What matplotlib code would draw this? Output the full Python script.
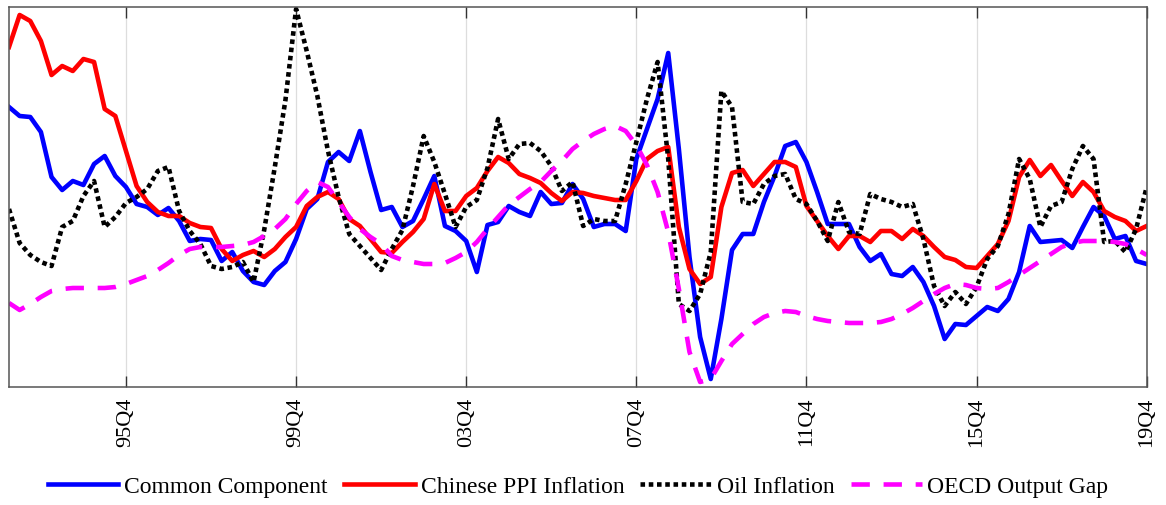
import matplotlib
matplotlib.use("Agg")
import matplotlib.pyplot as plt
import numpy as np

plt.rcParams['font.family'] = ['Liberation Serif', 'DejaVu Serif']

# quarterly sample 1993Q1 .. 2019Q4
start_year = 1993
n_quarters = 108
tick_labels = ['95Q4', '99Q4', '03Q4', '07Q4', '11Q4', '15Q4', '19Q4']
tick_pos = [11, 27, 43, 59, 75, 91, 107]

common = [0.92, 0.83, 0.82, 0.67, 0.22, 0.09, 0.18, 0.14, 0.35, 0.43,
          0.23, 0.12, -0.05, -0.08, -0.16, -0.09, -0.22, -0.42, -0.40, -0.41,
          -0.62, -0.53, -0.72, -0.83, -0.86, -0.72, -0.63, -0.40, -0.10, 0.00,
          0.37, 0.47, 0.38, 0.68, 0.27, -0.11, -0.08, -0.28, -0.22, 0.00,
          0.23, -0.27, -0.32, -0.42, -0.73, -0.26, -0.23, -0.07, -0.13, -0.17,
          0.07, -0.05, -0.04, 0.15, 0.00, -0.28, -0.25, -0.25, -0.32, 0.40,
          0.70, 1.00, 1.46, 0.50, -0.58, -1.38, -1.80, -1.20, -0.51, -0.35,
          -0.35, -0.03, 0.23, 0.53, 0.57, 0.37, 0.07, -0.25, -0.25, -0.25,
          -0.48, -0.62, -0.55, -0.75, -0.77, -0.68, -0.83, -1.07, -1.40, -1.25,
          -1.26, -1.17, -1.08, -1.12, -1.00, -0.73, -0.27, -0.43, -0.42, -0.41,
          -0.49, -0.28, -0.08, -0.17, -0.40, -0.37, -0.62, -0.65]

ppi = [1.52, 1.84, 1.78, 1.58, 1.24, 1.33, 1.28, 1.40, 1.37, 0.90,
       0.83, 0.48, 0.13, -0.03, -0.13, -0.17, -0.17, -0.24, -0.28, -0.29,
       -0.50, -0.62, -0.56, -0.52, -0.58, -0.50, -0.38, -0.28, -0.07, 0.02,
       0.07, 0.00, -0.20, -0.27, -0.40, -0.53, -0.54, -0.43, -0.33, -0.20,
       0.15, -0.12, -0.12, 0.03, 0.11, 0.28, 0.42, 0.36, 0.25, 0.21,
       0.16, 0.06, -0.02, 0.07, 0.06, 0.03, 0.01, -0.01, -0.01, 0.18,
       0.40, 0.48, 0.52, -0.28, -0.70, -0.85, -0.78, -0.08, 0.26, 0.29,
       0.13, 0.25, 0.37, 0.37, 0.32, -0.07, -0.22, -0.37, -0.50, -0.37,
       -0.37, -0.43, -0.32, -0.32, -0.40, -0.30, -0.37, -0.48, -0.58, -0.61,
       -0.68, -0.69, -0.57, -0.45, -0.22, 0.22, 0.39, 0.23, 0.34, 0.18,
       0.03, 0.17, 0.07, -0.12, -0.18, -0.22, -0.32, -0.27]

oil = [-0.10, -0.44, -0.56, -0.63, -0.67, -0.28, -0.22, 0.03, 0.18, -0.28,
       -0.18, -0.04, 0.02, 0.10, 0.28, 0.32, -0.12, -0.32, -0.45, -0.67,
       -0.70, -0.68, -0.63, -0.83, -0.31, 0.32, 0.99, 1.90, 1.48, 1.03,
       0.48, 0.02, -0.35, -0.47, -0.59, -0.71, -0.50, -0.31, 0.13, 0.63,
       0.37, 0.05, -0.28, -0.08, -0.01, 0.31, 0.80, 0.40, 0.55, 0.56,
       0.48, 0.33, 0.08, 0.17, -0.27, -0.20, -0.22, -0.22, 0.15, 0.57,
       1.00, 1.37, 0.40, -1.05, -1.12, -0.95, -0.53, 1.08, 0.92, -0.03,
       -0.05, 0.15, 0.23, 0.25, 0.00, -0.05, -0.22, -0.42, -0.03, -0.33,
       -0.35, 0.05, 0.00, -0.03, -0.08, -0.05, -0.40, -0.87, -1.07, -0.93,
       -1.05, -0.88, -0.60, -0.47, -0.15, 0.40, 0.20, -0.28, -0.07, -0.03,
       0.30, 0.53, 0.40, -0.43, -0.42, -0.53, -0.30, 0.12]

gap = [-1.04, -1.11, -1.05, -0.98, -0.92, -0.90, -0.89, -0.89, -0.89, -0.89,
       -0.88, -0.85, -0.81, -0.77, -0.71, -0.64, -0.56, -0.50, -0.48, -0.48,
       -0.48, -0.47, -0.46, -0.43, -0.37, -0.30, -0.20, -0.05, 0.08, 0.17,
       0.12, -0.03, -0.18, -0.30, -0.38, -0.45, -0.57, -0.61, -0.63, -0.65,
       -0.65, -0.64, -0.59, -0.53, -0.43, -0.30, -0.18, -0.06, 0.02, 0.10,
       0.17, 0.28, 0.38, 0.50, 0.58, 0.65, 0.70, 0.73, 0.68, 0.54,
       0.34, 0.07, -0.33, -0.90, -1.53, -1.83, -1.80, -1.62, -1.45, -1.35,
       -1.25, -1.18, -1.14, -1.12, -1.13, -1.17, -1.20, -1.22, -1.23, -1.24,
       -1.24, -1.24, -1.23, -1.20, -1.15, -1.09, -1.02, -0.95, -0.89, -0.85,
       -0.86, -0.89, -0.90, -0.89, -0.83, -0.76, -0.69, -0.62, -0.55, -0.48,
       -0.44, -0.42, -0.42, -0.42, -0.43, -0.45, -0.50, -0.56]

t = np.arange(n_quarters)

fig = plt.figure(figsize=(11.66, 5.06), dpi=100)
ax = fig.add_axes([9 / 1166, 118 / 506, 1137.7 / 1166, 380 / 506])

lw = 3.3
ax.plot(t, common, color='#0000ff', lw=lw, label='Common Component')
ax.plot(t, ppi, color='#ff0000', lw=lw, label='Chinese PPI Inflation')
ax.plot(t, oil, color='black', lw=lw, dashes=(1, 0.8), dash_capstyle='butt',
        label='Oil Inflation')
ax.plot(t, gap, color='#ff00ff', lw=lw, dashes=(4, 3), dash_capstyle='butt',
        label='OECD Output Gap')

ax.set_xlim(0, n_quarters - 1)
ax.set_ylim(-1.88, 1.92)
ax.set_xticks(tick_pos)
ax.set_xticklabels(tick_labels, rotation=90, fontsize=16)
ax.set_yticks([])
ax.grid(axis='x', color='#dddddd', lw=0.9)
ax.set_axisbelow(True)
ax.tick_params(axis='x', direction='in', length=8, width=1, color='#333333',
               top=True, pad=7)
for s in ax.spines.values():
    s.set_color('#555555')
    s.set_linewidth(1.1)

fig.legend(loc='center', bbox_to_anchor=(578 / 1166, 1 - 487 / 506), ncol=4,
           frameon=False, fontsize=17, handlelength=3.0, handletextpad=0.25,
           columnspacing=0.68, borderaxespad=0)

fig.savefig('out.png', dpi=100)
